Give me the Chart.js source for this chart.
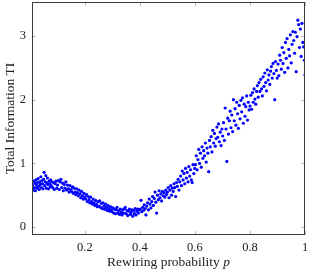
<!DOCTYPE html>
<html lang="en">
<head>
  <meta charset="UTF-8">
  <title>Total Information vs rewiring probability</title>
  <script src="https://cdn.jsdelivr.net/npm/chart.js"></script>
  <style>
    html, body {
      margin: 0;
      padding: 0;
      background: #ffffff;
    }
    #wrap {
      width: 313px;
      height: 272px;
      position: relative;
    }
  </style>
</head>
<body>
  <div id="wrap">
    <canvas id="chart" width="313" height="272"></canvas>
  </div>

  <script>
    // rewiring probability p
    const pValues = [
      0.010,0.012,0.014,0.016,0.018,0.020,0.022,0.024,0.026,0.028,0.030,0.032,0.034,0.036,0.038,0.040,0.042,0.044,0.046,0.048,0.050,0.052,0.054,0.056,0.058,0.060,0.062,0.064,0.066,0.068,0.070,0.072,0.074,0.076,0.078,0.080,0.083,0.086,0.089,0.092,0.095,0.098,
      0.101,0.104,0.107,0.110,0.113,0.116,0.119,0.122,0.125,0.128,0.131,0.134,0.137,0.140,0.143,0.146,0.149,0.152,0.155,0.158,0.161,0.164,0.167,0.170,0.173,0.176,0.179,0.182,0.185,0.188,0.191,0.194,0.197,0.200,
      0.203,0.206,0.209,0.212,0.215,0.218,0.221,0.224,0.227,0.230,0.233,0.236,0.239,0.242,0.245,0.248,0.251,0.254,0.257,0.260,0.263,0.266,0.269,0.272,0.275,0.278,0.281,0.284,0.287,0.290,0.293,0.296,0.299,
      0.302,0.305,0.308,0.311,0.314,0.317,0.320,0.323,0.326,0.329,0.332,0.335,0.338,0.341,0.344,0.347,0.350,0.353,0.356,0.359,0.362,0.365,0.368,0.371,0.374,0.377,0.380,0.383,0.386,0.389,0.392,0.395,0.398,
      0.401,0.404,0.407,0.410,0.413,0.416,0.419,0.422,0.425,0.428,0.431,0.434,0.437,0.440,0.443,0.446,0.449,0.452,0.455,0.458,0.461,0.464,0.467,0.470,0.473,0.476,0.479,0.482,0.485,0.488,0.491,0.494,0.497,
      0.500,0.503,0.506,0.509,0.512,0.515,0.518,0.521,0.524,0.527,0.530,0.533,0.536,0.539,0.542,0.545,0.548,0.551,0.554,0.557,0.560,0.563,0.566,0.569,0.572,0.575,0.578,0.581,0.584,0.587,0.590,0.593,0.596,0.599,
      0.602,0.605,0.608,0.611,0.614,0.617,0.620,0.623,0.626,0.629,0.632,0.635,0.638,0.641,0.644,0.647,0.650,0.653,0.656,0.659,0.662,0.665,0.668,0.671,0.674,0.677,0.680,0.683,0.686,0.689,0.692,0.695,0.698,
      0.701,0.704,0.707,0.710,0.713,0.716,0.719,0.722,0.725,0.728,0.731,0.734,0.737,0.740,0.743,0.746,0.749,0.752,0.755,0.758,0.761,0.764,0.767,0.770,0.773,0.776,0.779,0.782,0.785,0.788,0.791,0.794,0.797,
      0.800,0.803,0.806,0.809,0.812,0.815,0.818,0.821,0.824,0.827,0.830,0.833,0.836,0.839,0.842,0.845,0.848,0.851,0.854,0.857,0.860,0.863,0.866,0.869,0.872,0.875,0.878,0.881,0.884,0.887,0.890,0.893,0.896,0.899,
      0.902,0.905,0.908,0.911,0.914,0.917,0.920,0.923,0.926,0.929,0.932,0.935,0.938,0.941,0.944,0.947,0.950,0.953,0.956,0.959,0.962,0.965,0.968,0.971,0.974,0.977,0.980,0.983,0.986,0.989,0.992,0.995,0.998,1.000
    ];

    // Total Information TI, same order as pValues
    const tiValues = [
      0.66,0.58,0.72,0.62,0.69,0.57,0.74,0.66,0.61,0.70,0.76,0.64,0.59,0.71,0.67,0.79,0.62,0.73,0.68,0.60,0.75,0.86,0.65,0.71,0.81,0.61,0.69,0.77,0.67,0.60,0.72,0.68,0.63,0.74,0.65,0.71,0.62,0.70,0.59,0.68,0.72,0.61,
      0.66,0.73,0.59,0.71,0.75,0.62,0.69,0.57,0.67,0.61,0.71,0.58,0.66,0.60,0.55,0.65,0.59,0.56,0.63,0.53,0.61,0.55,0.51,0.60,0.54,0.49,0.58,0.52,0.46,0.56,0.49,0.44,0.53,0.47,
      0.44,0.51,0.40,0.48,0.43,0.38,0.47,0.40,0.36,0.44,0.38,0.34,0.42,0.36,0.32,0.40,0.33,0.41,0.31,0.37,0.29,0.38,0.33,0.28,0.36,0.31,0.26,0.34,0.29,0.25,0.32,0.27,0.24,
      0.30,0.22,0.28,0.21,0.27,0.31,0.22,0.26,0.20,0.28,0.23,0.19,0.27,0.22,0.29,0.31,0.21,0.26,0.18,0.25,0.28,0.20,0.23,0.27,0.17,0.26,0.21,0.29,0.19,0.25,0.28,0.22,0.27,
      0.28,0.42,0.24,0.31,0.26,0.35,0.29,0.19,0.33,0.38,0.27,0.44,0.36,0.30,0.40,0.48,0.34,0.45,0.55,0.39,0.22,0.50,0.43,0.57,0.46,0.52,0.41,0.56,0.49,0.54,0.47,0.58,0.51,
      0.55,0.62,0.46,0.58,0.65,0.50,0.61,0.56,0.68,0.62,0.48,0.70,0.64,0.75,0.58,0.71,0.80,0.65,0.88,0.74,0.84,0.68,0.92,0.77,0.86,0.71,0.95,0.80,0.90,0.74,0.70,0.98,0.84,0.92,
      0.98,1.12,0.90,1.06,1.22,1.00,1.16,0.94,1.26,1.08,1.20,1.12,1.32,1.02,1.24,1.16,0.87,1.36,1.26,1.42,1.18,1.52,1.32,1.47,1.27,1.39,1.57,1.41,1.62,1.34,1.49,1.28,1.54,
      1.43,1.64,1.36,1.87,1.54,1.03,1.71,1.46,1.67,1.82,1.56,1.76,1.50,2.00,1.67,1.86,1.60,1.96,1.78,1.55,1.91,1.70,1.99,1.81,2.03,1.63,1.93,1.74,1.89,2.06,1.68,1.96,1.84,
      1.90,2.07,1.85,2.11,1.96,2.17,2.01,1.93,2.13,2.22,2.04,2.27,2.13,2.32,2.17,2.06,2.36,2.21,2.42,2.27,2.14,2.47,2.31,2.39,2.24,2.45,2.52,2.34,2.57,2.41,2.00,2.60,2.46,2.34,
      2.56,2.38,2.70,2.62,2.48,2.82,2.57,2.74,2.43,2.90,2.65,2.96,2.50,2.79,2.69,3.02,2.58,2.87,3.07,2.93,2.73,3.06,2.44,2.99,3.25,3.18,2.82,3.11,2.68,3.20,2.90,2.83,2.62,2.39
    ];

    const xTicks = [0.2, 0.4, 0.6, 0.8, 1];
    const yTicks = [0, 1, 2, 3];

    const xTitle = 'Rewiring probability ';
    const xTitleVar = 'p';
    const yTitle = 'Total Information TI';

    const serif = "'Liberation Serif', 'Times New Roman', serif";

    // frame, inward ticks on all four sides, and the axis titles
    const framePlugin = {
      id: 'frame',
      afterDraw(chart) {
        const ctx = chart.ctx;
        const a = chart.chartArea;
        const xs = chart.scales.x;
        const ys = chart.scales.y;
        ctx.save();
        ctx.strokeStyle = '#a8a8a8';
        ctx.lineWidth = 0.8;
        ctx.beginPath();
        xs.ticks.forEach(t => {
          const px = Math.round(xs.getPixelForValue(t.value)) + 0.5;
          ctx.moveTo(px, a.bottom); ctx.lineTo(px, a.bottom - 4);
          ctx.moveTo(px, a.top); ctx.lineTo(px, a.top + 4);
        });
        ys.ticks.forEach(t => {
          const py = Math.round(ys.getPixelForValue(t.value)) + 0.5;
          ctx.moveTo(a.left, py); ctx.lineTo(a.left + 4, py);
          ctx.moveTo(a.right, py); ctx.lineTo(a.right - 4, py);
        });
        ctx.stroke();

        ctx.strokeStyle = '#3a3a3a';
        ctx.lineWidth = 1;
        ctx.strokeRect(Math.round(a.left) + 0.5, Math.round(a.top) + 0.5,
          Math.round(a.right - a.left) - 1, Math.round(a.bottom - a.top) - 1);

        // x title with italic p
        ctx.fillStyle = '#222';
        ctx.textBaseline = 'middle';
        ctx.font = '13.5px ' + serif;
        const w1 = ctx.measureText(xTitle).width;
        ctx.font = 'italic 13.5px ' + serif;
        const w2 = ctx.measureText(xTitleVar).width;
        const cx = (a.left + a.right) / 2;
        let sx = cx - (w1 + w2) / 2;
        ctx.textAlign = 'left';
        ctx.font = '13.5px ' + serif;
        ctx.fillText(xTitle, sx, 262);
        ctx.font = 'italic 13.5px ' + serif;
        ctx.fillText(xTitleVar, sx + w1, 262);

        // y title
        ctx.translate(10, (a.top + a.bottom) / 2);
        ctx.rotate(-Math.PI / 2);
        ctx.textAlign = 'center';
        ctx.font = '13.5px ' + serif;
        ctx.fillText(yTitle, 0, 0);
        ctx.restore();
      }
    };

    const points = pValues.map((p, i) => ({ x: p, y: tiValues[i] }));

    new Chart(document.getElementById('chart').getContext('2d'), {
      type: 'scatter',
      data: {
        datasets: [{
          label: 'TI',
          data: points,
          backgroundColor: '#0000ff',
          borderColor: '#0000ff',
          borderWidth: 0,
          pointRadius: 1.6,
          pointHoverRadius: 1.6
        }]
      },
      options: {
        responsive: false,
        animation: false,
        events: [],
        layout: { padding: { top: 2, right: 8, left: 0, bottom: 0 } },
        plugins: {
          legend: { display: false },
          tooltip: { enabled: false }
        },
        scales: {
          x: {
            type: 'linear',
            min: 0.008,
            max: 1,
            afterBuildTicks: s => { s.ticks = xTicks.map(v => ({ value: v })); },
            afterFit: s => { s.height = 37; s.paddingLeft = 0; s.paddingRight = 0; },
            grid: { display: false, drawTicks: false },
            border: { display: false },
            ticks: {
              color: '#222',
              padding: 5,
              maxRotation: 0,
              font: { family: serif, size: 12.5 },
              callback: v => String(v)
            }
          },
          y: {
            type: 'linear',
            min: -0.125,
            max: 3.535,
            afterBuildTicks: s => { s.ticks = yTicks.map(v => ({ value: v })); },
            afterFit: s => { s.width = 32; s.paddingTop = 0; s.paddingBottom = 0; },
            grid: { display: false, drawTicks: false },
            border: { display: false },
            ticks: {
              color: '#222',
              padding: 6,
              font: { family: serif, size: 12.5 },
              callback: v => String(v)
            }
          }
        }
      },
      plugins: [framePlugin]
    });
  </script>
</body>
</html>
